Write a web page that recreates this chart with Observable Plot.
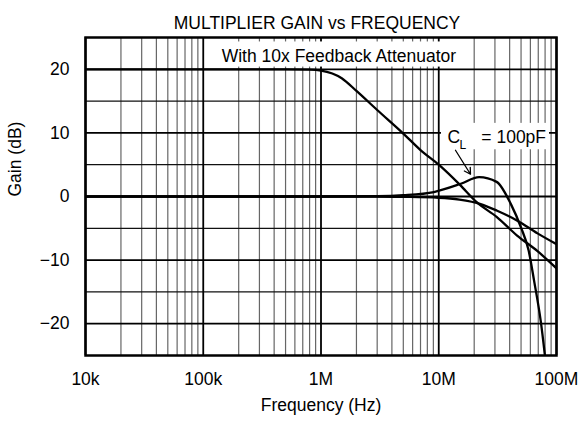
<!DOCTYPE html>
<html>
<head>
<meta charset="utf-8">
<script src="https://cdn.jsdelivr.net/npm/d3@7"></script>
<script src="https://cdn.jsdelivr.net/npm/@observablehq/plot@0.6"></script>
<style>
  html, body { margin: 0; padding: 0; background: #fff; }
</style>
</head>
<body>
<div id="chart"></div>
<script>
// ---- data ----
const decades = [1e4, 1e5, 1e6, 1e7, 1e8];
const decadeLabels = ["10k", "100k", "1M", "10M", "100M"];
const minorMultipliers = [2, 3, 4, 5, 6, 7, 8, 9];
const gainTicks = [-20, -10, 0, 10, 20];
const gainMinor = [-15, -5, 5, 15];

// With 10x feedback attenuator
const attenFreq = [1e4, 1e5, 5e5, 8e5, 1e6, 1.5e6, 2e6, 3e6, 5e6, 7e6, 1e7, 1.5e7, 2.1e7, 3.1e7, 4.6e7, 6.9e7, 1e8];
const attenGain = [20, 20, 20, 19.95, 19.8, 18.6, 16.6, 13.6, 9.9, 7.3, 5.0, 1.9, -0.9, -3.2, -6.1, -8.6, -11.3];

// Unity, no load capacitance
const plainFreq = [1e4, 1e6, 3e6, 5e6, 1e7, 1.5e7, 2.27e7, 3.1e7, 4.65e7, 6.9e7, 1e8];
const plainGain = [0, 0, 0, -0.05, -0.2, -0.5, -1.2, -2.2, -3.8, -5.8, -7.5];

// C_L = 100pF
const clFreq = [1e4, 1e6, 3e6, 5e6, 9.1e6, 1.54e7, 2.2e7, 3.1e7, 4.1e7, 5.0e7, 5.8e7, 6.46e7, 7.35e7, 8.2e7];
const clGain = [0, 0, 0.05, 0.2, 0.7, 2.0, 3.05, 2.3, -1.2, -4.9, -8.5, -13.3, -19.6, -27];

const title = "MULTIPLIER GAIN vs FREQUENCY";
const xLabel = "Frequency (Hz)";
const yLabel = "Gain (dB)";
const attenLabel = "With 10x Feedback Attenuator";

// ---- build ----
const pts = (f, g) => f.map((x, i) => ({f: x, g: g[i]}));
const series = [pts(attenFreq, attenGain), pts(plainFreq, plainGain), pts(clFreq, clGain)];
const minorFreqs = decades.slice(0, -1).flatMap(d => minorMultipliers.map(m => m * d));

const FONT = 17.5;
const lineMarks = series.map(s => Plot.line(s, {
  x: "f", y: "g", curve: "monotone-x", stroke: "black", strokeWidth: 2.3, clip: true
}));

const chart = Plot.plot({
  width: 581,
  height: 423,
  marginLeft: 85,
  marginRight: 25,
  marginTop: 37,
  marginBottom: 68,
  style: {fontFamily: "'Liberation Sans', Arial, Helvetica, sans-serif", fontSize: FONT + "px", background: "white", color: "black"},
  x: {type: "log", domain: [1e4, 1e8]},
  y: {domain: [-25, 25]},
  marks: [
    Plot.ruleX(minorFreqs, {stroke: "#666", strokeWidth: 1.2}),
    Plot.ruleY(gainMinor, {stroke: "#111", strokeWidth: 1.2}),
    Plot.ruleX(decades, {stroke: "black", strokeWidth: 1.8}),
    Plot.ruleY(gainTicks, {stroke: "black", strokeWidth: 1.8}),
    // label backgrounds
    Plot.rect([0], {x1: () => 1.11e5, x2: () => 1.72e7, y1: () => 20.35, y2: () => 24.3, fill: "white"}),
    Plot.rect([0], {x1: () => 1.055e7, x2: () => 8.72e7, y1: () => 7.35, y2: () => 11.5, fill: "white"}),
    ...lineMarks,
    Plot.text([attenLabel], {x: () => 1.42e6, y: () => 22.1, text: d => d, fontSize: FONT}),
    Plot.text(["C"], {x: () => 1.186e7, y: () => 9.3, text: d => d, textAnchor: "start", fontSize: FONT}),
    Plot.text(["L"], {x: () => 1.5e7, y: () => 8.1, text: d => d, textAnchor: "start", fontSize: 12}),
    Plot.text(["= 100pF"], {x: () => 2.3e7, y: () => 9.3, text: d => d, textAnchor: "start", fontSize: FONT}),
    Plot.arrow([0], {x1: () => 1.387e7, y1: () => 7.27, x2: () => 1.86e7, y2: () => 3.5, stroke: "black", strokeWidth: 1.3, headLength: 8, bend: 0}),
    Plot.axisX({ticks: decades, tickFormat: d => decadeLabels[decades.indexOf(d)], tickSize: 0, tickPadding: 17, label: null}),
    Plot.axisY({ticks: gainTicks, tickSize: 0, tickPadding: 16, label: null}),
    Plot.text([title], {frameAnchor: "top", dy: -21, dx: -4, text: d => d, fontSize: FONT}),
    Plot.text([xLabel], {frameAnchor: "bottom", dy: 55, text: d => d, fontSize: FONT}),
    Plot.text([yLabel], {frameAnchor: "left", dx: -70, rotate: -90, text: d => d, fontSize: FONT}),
    Plot.frame({stroke: "black", strokeWidth: 2.5})
  ]
});
document.getElementById("chart").appendChild(chart);
</script>
</body>
</html>
